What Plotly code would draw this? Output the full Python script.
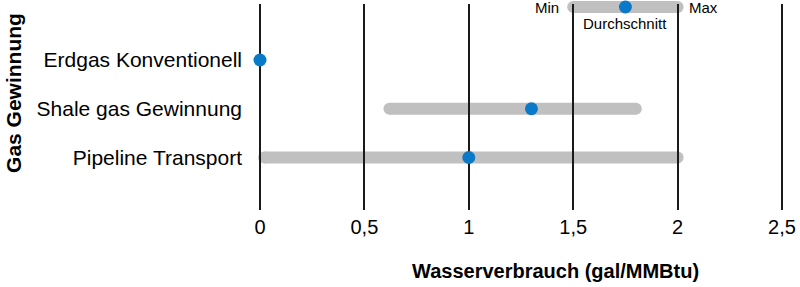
import plotly.graph_objects as go

# ---- data ----
categories = ["Erdgas Konventionell", "Shale gas Gewinnung", "Pipeline Transport"]
min_vals = [0.0, 0.62, 0.02]
max_vals = [0.0, 1.8, 2.0]
avg_vals = [0.0, 1.3, 1.0]
x_tickvals = [0, 0.5, 1, 1.5, 2, 2.5]
x_ticktext = ["0", "0,5", "1", "1,5", "2", "2,5"]

GRAY = "#c0c0c0"
BLUE = "#0a79c8"
FONT = "Liberation Sans, Arial, sans-serif"
TXT = "#000000"

rows = [len(categories) - 1 - i for i in range(len(categories))]

fig = go.Figure()

shapes = []
half = 6
for r, lo, hi in zip(rows, min_vals, max_vals):
    shapes.append(dict(type="rect", xref="x", yref="y", x0=lo, x1=hi,
                       ysizemode="pixel", yanchor=r, y0=-half, y1=half,
                       fillcolor=GRAY, line=dict(width=0), layer="below"))
    for end in (lo, hi):
        shapes.append(dict(type="circle", xref="x", yref="y",
                           xsizemode="pixel", xanchor=end, x0=-half, x1=half,
                           ysizemode="pixel", yanchor=r, y0=-half, y1=half,
                           fillcolor=GRAY, line=dict(width=0), layer="below"))

fig.add_trace(go.Scatter(
    x=avg_vals, y=rows, mode="markers",
    marker=dict(size=13, color=BLUE, line=dict(width=0)),
    cliponaxis=False, showlegend=False, hoverinfo="x+y",
))

# ---- legend key (top) ----
leg_y = 0.9854
leg_lo, leg_mid, leg_hi = 1.5, 1.75, 2.0
shapes.append(dict(type="rect", xref="x", yref="paper", x0=leg_lo, x1=leg_hi,
                   ysizemode="pixel", yanchor=leg_y, y0=-half, y1=half,
                   fillcolor=GRAY, line=dict(width=0), layer="between"))
for end in (leg_lo, leg_hi):
    shapes.append(dict(type="circle", xref="x", yref="paper",
                       xsizemode="pixel", xanchor=end, x0=-half, x1=half,
                       ysizemode="pixel", yanchor=leg_y, y0=-half, y1=half,
                       fillcolor=GRAY, line=dict(width=0), layer="between"))
shapes.append(dict(type="circle", xref="x", yref="paper",
                   xsizemode="pixel", xanchor=leg_mid, x0=-6.5, x1=6.5,
                   ysizemode="pixel", yanchor=leg_y, y0=-6.5, y1=6.5,
                   fillcolor=BLUE, line=dict(width=0), layer="above"))

annotations = [
    dict(text="Min", x=leg_lo, xref="x", y=leg_y, yref="paper", xanchor="right",
         yanchor="middle", xshift=-12, showarrow=False, font=dict(size=15, color=TXT, family=FONT)),
    dict(text="Max", x=leg_hi, xref="x", y=leg_y, yref="paper", xanchor="left",
         yanchor="middle", xshift=9, showarrow=False, font=dict(size=15, color=TXT, family=FONT)),
    dict(text="Durchschnitt", x=leg_mid, xref="x", y=0.903, yref="paper", xanchor="center",
         yanchor="middle", showarrow=False, font=dict(size=15, color=TXT, family=FONT)),
    dict(text="<b>Gas Gewinnung</b>", x=-0.4578, xref="paper", y=0.57, yref="paper",
         xanchor="center", yanchor="middle", textangle=-90, showarrow=False,
         font=dict(size=21, color=TXT, family=FONT)),
    dict(text="<b>Wasserverbrauch (gal/MMBtu)</b>", x=0.5647, xref="paper", y=-0.296,
         yref="paper", xanchor="center", yanchor="middle", showarrow=False,
         font=dict(size=20, color=TXT, family=FONT)),
]

fig.update_layout(
    width=800, height=287,
    margin=dict(l=256, r=11, t=4, b=77),
    paper_bgcolor="white", plot_bgcolor="white",
    font=dict(family=FONT, color=TXT, size=20),
    shapes=shapes, annotations=annotations,
    showlegend=False,
)
fig.update_xaxes(
    range=[-4 / 210, 2.5 + 4 / 210], tickvals=x_tickvals, ticktext=x_ticktext,
    showgrid=True, gridcolor="#1a1a1a", gridwidth=2,
    zeroline=False, showline=False, ticks="",
    ticklabelstandoff=3,
    tickfont=dict(size=20, color=TXT, family=FONT),
    fixedrange=True,
)
fig.update_yaxes(
    range=[-1.077, 3.149], tickvals=rows, ticktext=categories,
    showgrid=False, zeroline=False, showline=False, ticks="",
    ticklabelstandoff=13,
    tickfont=dict(size=21, color=TXT, family=FONT),
    fixedrange=True,
)

fig.write_html("out.html")
